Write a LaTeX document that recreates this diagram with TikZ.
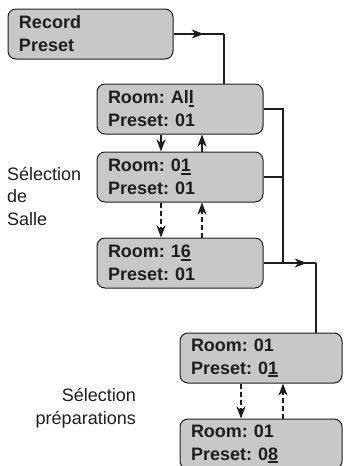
\documentclass[tikz,border=0pt]{standalone}
\usepackage{fontspec}
\setmainfont{Liberation Sans}
\usetikzlibrary{arrows.meta,decorations.markings}
\definecolor{panelgray}{RGB}{200,200,200}
\definecolor{inkgray}{RGB}{30,30,30}
\newcommand{\cursor}[1]{\setbox0\hbox{#1}\rlap{\rule[-3pt]{\wd0}{2pt}}\box0}

\tikzset{
  panel/.style={draw=inkgray, line width=1pt, fill=panelgray, rounded corners=8pt,
    minimum height=50pt, inner xsep=11pt, inner ysep=0pt, align=left,
    font=\bfseries\fontsize{18}{23}\selectfont\frenchspacing, text=inkgray},
  wire/.style={draw=inkgray, line width=1.2pt},
  tip/.style={-{Stealth[length=12pt,width=9pt,inset=3.5pt]}},
  dashwire/.style={wire, dash pattern=on 5pt off 3pt},
  midarrow/.style={postaction={decorate}, decoration={markings,
    mark=at position #1 with {\arrow{Stealth[length=12pt,width=9pt,inset=3.5pt]}}}},
  hint/.style={font=\fontsize{18}{22.5}\selectfont, text=inkgray, inner sep=0pt}
}

\begin{document}
\begin{tikzpicture}[x=1pt, y=-1pt, line cap=butt, line join=miter]
		\clip (0,0) rectangle (343,466);
		%\draw[red] (0,0) grid[step=50] (343,466);

		% Room selection
		\node [panel, text width=143pt] (rec) at (90.5,34) {Record\\Preset};
		\node [panel, text width=144pt] (all) at (180,109) {Room: Al\cursor{l}\\Preset: 01};
		\node [panel, text width=144pt] (r01) at (180,177) {Room: 0\cursor{1}\\Preset: 01};
		\node [panel, text width=144pt] (r16) at (180,263) {Room: 1\cursor{6}\\Preset: 01};
		\node [hint, anchor=west, align=left] (salle) at (7,196) {Sélection\\de\\Salle};

		% Preset selection
		\node [panel, text width=140pt] (p01) at (261,358) {Room: 01\\Preset: 0\cursor{1}};
		\node [panel, text width=140pt] (p08) at (261,444) {Room: 01\\Preset: 0\cursor{8}};
		\node [hint, anchor=east, align=right] (prep) at (136,408) {Sélection\\préparations};

		% columns of the connectors
		\coordinate (k1) at (224,34);
		\coordinate (bus) at (283,0);
		\coordinate (k3) at (316,0);
		\coordinate (dn) at (161,0);
		\coordinate (up) at (202,0);
		\coordinate (dnp) at (241,0);
		\coordinate (upp) at (283,0);

		% Record Preset into the rooms
		\draw [wire, midarrow=0.6] (rec.east) -- (k1);
		\draw [wire] (k1) -- (k1 |- all.north);

		% steps through the rooms
		\draw [wire, tip] (all.south -| dn) -- (r01.north -| dn);
		\draw [wire, tip] (r01.north -| up) -- (all.south -| up);
		\draw [dashwire, tip] (r01.south -| dn) -- (r16.north -| dn);
		\draw [dashwire, tip] (r16.north -| up) -- (r01.south -| up);

		% from any room to the presets
		\draw [wire] (all.east) -- (all.east -| bus) -- (r16.east -| bus);
		\draw [wire] (r01.east) -- (r01.east -| bus);
		\draw [wire] (r16.east) -- (r16.east -| bus);
		\draw [wire, midarrow=0.72] (r16.east -| bus) -- (r16.east -| k3);
		\draw [wire] (r16.east -| k3) -- (p01.north -| k3);

		% steps through the presets
		\draw [dashwire, tip] (p01.south -| dnp) -- (p08.north -| dnp);
		\draw [dashwire, tip] (p08.north -| upp) -- (p01.south -| upp);
	\end{tikzpicture}
\end{document}
